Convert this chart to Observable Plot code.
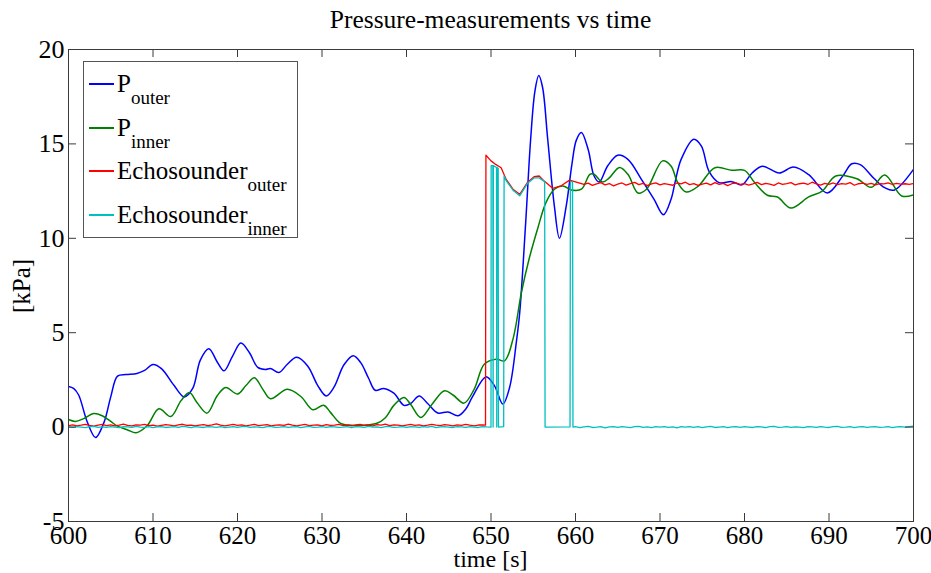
<!DOCTYPE html>
<html>
<head>
<meta charset="utf-8">
<script src="https://cdn.jsdelivr.net/npm/d3@7"></script>
<script src="https://cdn.jsdelivr.net/npm/@observablehq/plot@0.6"></script>
<style>
  html, body { margin: 0; padding: 0; background: #fff; }
  #wrap { position: relative; width: 931px; height: 573px; background: #fff; font-family: "Liberation Serif", "Times New Roman", serif; color: #000; overflow: hidden; }
  #title { position: absolute; left: 68px; top: 0; width: 845px; height: 36px; text-align: center; font-size: 25.5px; line-height: 40px; white-space: nowrap; }
  #chart { position: absolute; left: 0; top: 36px; }
  #xlabel { position: absolute; left: 68px; width: 845px; text-align: center; top: 548px; font-size: 24px; line-height: 22px; }
  #ylabel { position: absolute; left: 22px; top: 286px; font-size: 25px; line-height: 30px; transform: translate(-50%, -50%) rotate(-90deg); white-space: nowrap; }
  #legend { position: absolute; left: 83px; top: 61px; width: 213px; height: 175px; border: 1px solid #555; background: #fff; }
  .entry { position: absolute; left: 0; width: 213px; height: 44px; }
  .entry .sw { position: absolute; left: 5px; width: 25px; height: 2px; }
  .entry .tx { position: absolute; left: 33px; font-size: 25px; line-height: 25px; white-space: nowrap; }
  .entry .tx sub { font-size: 19px; vertical-align: -12px; line-height: 0; }
</style>
</head>
<body>
<div id="wrap">
  <div id="title">Pressure-measurements vs time</div>
  <div id="chart"></div>
  <div id="xlabel">time [s]</div>
  <div id="ylabel">[kPa]</div>
  <div id="legend"></div>
</div>
<script>
// ---- axis ticks ----
const xTicks = [600, 610, 620, 630, 640, 650, 660, 670, 680, 690, 700];
const yTicks = [-5, 0, 5, 10, 15, 20];

// ---- series names / colours ----
const seriesNames = ["P|outer", "P|inner", "Echosounder|outer", "Echosounder|inner"];
const seriesColors = ["#0000ff", "#008000", "#ff0000", "#00bfbf"];

// ---- P_outer (time [s], pressure [kPa]) ----
const pOuterT = [600.0, 600.6, 601.2, 602.2, 603.2, 604.2, 605.0, 605.8, 606.8, 608.1, 609.0, 610.0, 611.0, 612.5, 613.7, 614.7, 615.6, 616.6, 617.6, 618.4, 619.4, 620.4, 621.4, 622.4, 623.3, 623.9, 624.9, 625.9, 627.0, 628.3, 629.5, 630.5, 631.4, 632.6, 633.7, 634.6, 635.5, 636.3, 637.3, 638.5, 639.7, 640.5, 641.5, 642.5, 643.7, 644.9, 646.1, 647.0, 647.8, 649.4, 650.4, 651.4, 652.2, 653.0, 653.4, 654.1, 654.7, 655.2, 655.65, 656.1, 656.7, 657.5, 658.1, 658.9, 659.6, 660.1, 660.7, 661.5, 662.2, 662.8, 663.8, 665.0, 666.2, 667.8, 669.3, 670.4, 671.3, 671.8, 672.5, 674.0, 674.9, 675.8, 677.0, 678.5, 679.7, 680.9, 682.1, 684.1, 685.8, 687.6, 689.8, 691.6, 692.7, 693.7, 695.3, 696.6, 697.7, 700.0];
const pOuterV = [2.15, 2.05, 1.7, 0.3, -0.55, 0.25, 1.6, 2.7, 2.78, 2.84, 3.0, 3.32, 3.1, 2.2, 1.6, 2.05, 3.55, 4.15, 3.45, 2.98, 3.75, 4.45, 3.95, 3.16, 3.05, 3.1, 2.89, 3.33, 3.7, 3.24, 2.2, 1.65, 2.1, 3.3, 3.78, 3.4, 2.6, 1.95, 2.05, 1.8, 1.15, 1.25, 1.65, 1.25, 0.75, 0.8, 0.6, 0.95, 1.6, 2.66, 2.2, 1.22, 2.1, 4.5, 6.07, 10.8, 15.3, 17.8, 18.62, 18.0, 15.3, 11.7, 10.0, 11.7, 14.0, 15.2, 15.6, 14.7, 13.3, 12.98, 13.83, 14.4, 14.18, 13.12, 12.06, 11.25, 12.06, 13.0, 14.18, 15.25, 14.88, 13.55, 12.95, 13.0, 12.83, 13.46, 13.82, 13.46, 13.77, 13.37, 12.4, 13.28, 13.95, 13.9, 13.18, 12.68, 12.55, 13.65];

// ---- P_inner ----
const pInnerT = [600.0, 600.8, 601.8, 603.0, 604.0, 605.0, 605.8, 607.0, 608.0, 609.3, 610.7, 612.1, 613.3, 614.3, 615.2, 616.4, 617.6, 618.6, 620.0, 621.0, 622.0, 623.0, 623.9, 625.9, 627.5, 628.9, 630.2, 631.0, 632.2, 633.5, 635.0, 636.5, 637.5, 638.5, 639.7, 640.5, 641.7, 643.0, 644.5, 645.5, 646.8, 648.0, 649.2, 650.6, 651.6, 652.6, 653.6, 654.5, 655.5, 656.5, 657.5, 658.5, 659.5, 660.7, 661.7, 662.2, 663.2, 664.0, 665.2, 666.2, 667.4, 668.4, 670.3, 671.3, 672.1, 673.1, 674.5, 676.5, 678.5, 680.0, 681.2, 682.7, 683.9, 685.5, 687.6, 689.2, 690.8, 693.3, 695.0, 696.6, 698.6, 700.0];
const pInnerV = [0.4, 0.3, 0.45, 0.72, 0.6, 0.3, 0.05, -0.15, -0.3, 0.07, 0.97, 0.56, 1.39, 1.83, 1.3, 0.74, 1.66, 2.1, 1.75, 2.2, 2.62, 2.0, 1.5, 2.0, 1.62, 0.92, 1.16, 0.78, 0.2, 0.1, 0.1, 0.2, 0.5, 1.15, 1.57, 1.2, 0.51, 1.2, 1.92, 1.7, 1.27, 2.0, 3.33, 3.6, 3.51, 4.66, 7.13, 8.89, 10.48, 11.89, 12.6, 12.77, 12.56, 12.6, 13.39, 13.39, 12.98, 13.2, 13.75, 13.39, 12.4, 12.6, 14.1, 13.83, 12.95, 12.45, 12.75, 13.74, 13.6, 13.6, 12.95, 12.28, 12.19, 11.6, 12.19, 12.5, 13.3, 13.15, 12.7, 13.35, 12.24, 12.3];

// ---- Echosounder_outer: sampled noise before the step (every 0.5 s from 600 s) ----
const echoOuterPreStart = 600, echoOuterPostStart = 661, sampleStep = 0.5;
const echoOuterPreV = [0.08,0.12,0.06,0.10,0.15,0.09,0.05,0.11,0.14,0.08, 0.12,0.07,0.10,0.16,0.09,0.06,0.12,0.10,0.14,0.08, 0.11,0.05,0.09,0.13,0.10,0.07,0.12,0.15,0.09,0.11, 0.06,0.10,0.13,0.08,0.12,0.17,0.10,0.07,0.11,0.14, 0.09,0.12,0.06,0.10,0.15,0.08,0.11,0.13,0.07,0.10, 0.12,0.09,0.16,0.10,0.06,0.11,0.14,0.08,0.10,0.12, 0.07,0.13,0.09,0.11,0.15,0.08,0.10,0.06,0.12,0.14, 0.09,0.11,0.07,0.13,0.10,0.16,0.08,0.12,0.10,0.06, 0.11,0.14,0.09,0.12,0.07,0.10,0.15,0.11,0.08,0.13, 0.10,0.06,0.12,0.09,0.14,0.10,0.07,0.11,0.12];
const echoOuterStepT = [649.35, 649.4, 650.0, 650.6, 651.2, 651.8, 652.6, 653.4, 654.3, 655.1, 655.7, 656.3, 657.3, 658.3, 659.3, 660.3];
const echoOuterStepV = [0.1, 14.4, 14.1, 13.9, 13.74, 13.12, 12.6, 12.33, 12.95, 13.26, 13.3, 13.03, 12.65, 12.78, 13.08, 12.95];
const echoOuterPostV = [12.85,12.92,12.80,12.88,12.95,12.83,12.90,12.78,12.87,12.93, 12.82,12.89,12.96,12.84,12.91,12.79,12.88,12.94,12.83,12.90, 12.86,12.81,12.93,12.88,12.97,12.84,12.90,12.80,12.87,12.92, 12.83,12.95,12.86,12.91,12.79,12.89,12.94,12.85,12.90,12.82, 12.88,12.96,12.84,12.91,12.87,12.80,12.93,12.86,12.90,12.95, 12.83,12.89,12.92,12.85,12.97,12.88,12.82,12.91,12.86,12.93, 12.84,12.90,12.87,12.95,12.81,12.89,12.92,12.86,12.91,12.83, 12.90,12.88,12.94,12.85,12.91,12.87,12.89,12.86,12.90];

// ---- Echosounder_inner ----
const echoInnerPreStart = 600, echoInnerPostStart = 660;
const echoInnerPreV = [0.01,-0.02,0.03,0.00,-0.03,0.02,0.04,-0.01,0.01,-0.02, 0.03,0.00,-0.03,0.02,0.01,-0.02,0.04,0.00,-0.01,0.02, -0.03,0.01,0.03,-0.02,0.00,0.02,-0.01,0.04,0.01,-0.03, 0.02,0.00,-0.02,0.03,0.01,-0.01,0.02,-0.03,0.00,0.03, -0.01,0.02,0.04,-0.02,0.01,0.00,-0.03,0.02,0.03,-0.01, 0.00,0.03,-0.02,0.01,0.02,-0.03,0.01,0.04,-0.01,0.00, 0.02,-0.02,0.03,0.01,-0.01,0.00,0.03,-0.03,0.02,0.01, -0.02,0.04,0.00,0.01,-0.03,0.02,0.03,-0.01,0.00,0.02, -0.01,0.03,0.01,-0.02,0.02,0.00,0.04,-0.03,0.01,0.02, 0.00,-0.02,0.03,0.01,-0.01,0.02,0.00,-0.02,0.03,0.01, 0.00];
const echoInnerStepT = [650.02, 650.22, 650.25, 650.28, 650.65, 650.68, 650.72, 650.85, 650.88, 651.5, 651.55, 651.8, 652.6, 653.4, 654.3, 655.1, 655.7, 656.35, 656.4, 659.35, 659.4, 659.65, 659.7];
const echoInnerStepV = [13.85, 13.85, 0.0, 13.85, 13.75, 0.0, 13.75, 13.7, 0.0, 0.02, 13.3, 13.05, 12.55, 12.25, 12.9, 13.2, 13.2, 13.0, 0.0, 0.01, 13.0, 13.0, 0.0];
const echoInnerPostV = [0.02,-0.03,0.01,0.04,-0.02,0.00,0.03,-0.04,0.01,0.02, -0.02,0.03,0.00,-0.03,0.02,0.04,-0.01,0.01,-0.03,0.02, 0.00,0.03,-0.02,0.01,-0.04,0.02,0.00,0.03,-0.01,0.02, -0.03,0.01,0.04,-0.02,0.00,0.02,-0.03,0.01,0.03,-0.01, 0.02,0.00,-0.02,0.03,0.01,-0.03,0.02,0.04,-0.01,0.00, 0.03,-0.02,0.01,0.00,-0.03,0.02,0.01,-0.01,0.03,0.00, -0.02,0.02,0.04,-0.01,0.00,0.03,-0.03,0.01,0.02,-0.02, 0.01,0.03,-0.01,0.00,0.02,-0.03,0.01,0.02,0.00,0.03, 0.06];

// ---- build tables ----
const paired = (ts, vs) => ts.map((t, i) => ({t, v: vs[i]}));
const sampled = (start, vs) => vs.map((v, i) => ({t: start + i * sampleStep, v}));
const pOuter = paired(pOuterT, pOuterV);
const pInner = paired(pInnerT, pInnerV);
const echoOuter = [...sampled(echoOuterPreStart, echoOuterPreV), ...paired(echoOuterStepT, echoOuterStepV), ...sampled(echoOuterPostStart, echoOuterPostV)];
const echoInner = [...sampled(echoInnerPreStart, echoInnerPreV), ...paired(echoInnerStepT, echoInnerStepV), ...sampled(echoInnerPostStart, echoInnerPostV)];

const width = 931, height = 537;
const margin = {top: 13, right: 18, bottom: 52, left: 68};
const frameW = width - margin.left - margin.right;
const frameH = height - margin.top - margin.bottom;
const tickLen = 8;
const axisColor = "#3a3a3a";
const fmt = d => String(d);

const chart = Plot.plot({
  width, height,
  marginTop: margin.top, marginRight: margin.right, marginBottom: margin.bottom, marginLeft: margin.left,
  style: {fontFamily: "'Liberation Serif', 'Times New Roman', serif", fontSize: "26px", background: "#fff", color: "#000", overflow: "visible"},
  x: {domain: [600, 700]},
  y: {domain: [-5, 20]},
  marks: [
    Plot.line(pOuter, {x: "t", y: "v", stroke: seriesColors[0], strokeWidth: 1.5, curve: "catmull-rom", clip: true}),
    Plot.line(pInner, {x: "t", y: "v", stroke: seriesColors[1], strokeWidth: 1.5, curve: "catmull-rom", clip: true}),
    Plot.line(echoOuter, {x: "t", y: "v", stroke: seriesColors[2], strokeWidth: 1.3, clip: true}),
    Plot.line(echoInner, {x: "t", y: "v", stroke: seriesColors[3], strokeWidth: 1.3, clip: true}),
    Plot.tickX(xTicks, {x: d => d, stroke: axisColor, insetTop: frameH - tickLen}),
    Plot.tickX(xTicks, {x: d => d, stroke: axisColor, insetBottom: frameH - tickLen}),
    Plot.tickY(yTicks, {y: d => d, stroke: axisColor, insetRight: frameW - tickLen}),
    Plot.tickY(yTicks, {y: d => d, stroke: axisColor, insetLeft: frameW - tickLen}),
    Plot.frame({stroke: axisColor}),
    Plot.axisX(xTicks, {tickSize: 0, tickPadding: 5, label: null, tickFormat: fmt, fontSize: 25}),
    Plot.axisY(yTicks, {tickSize: 0, tickPadding: 4, label: null, tickFormat: fmt, fontSize: 26})
  ]
});
document.getElementById("chart").appendChild(chart);

// ---- legend ----
const legend = document.getElementById("legend");
const lineY = [21, 65, 108, 152];
seriesNames.forEach((name, i) => {
  const [main, sub] = name.split("|");
  const e = document.createElement("div");
  e.className = "entry";
  e.style.top = "0px";
  const sw = document.createElement("div");
  sw.className = "sw";
  sw.style.top = lineY[i] + "px";
  sw.style.background = seriesColors[i];
  const tx = document.createElement("div");
  tx.className = "tx";
  tx.style.top = (lineY[i] - 12) + "px";
  tx.innerHTML = main + "<sub>" + sub + "</sub>";
  e.appendChild(sw);
  e.appendChild(tx);
  legend.appendChild(e);
});
</script>
</body>
</html>
